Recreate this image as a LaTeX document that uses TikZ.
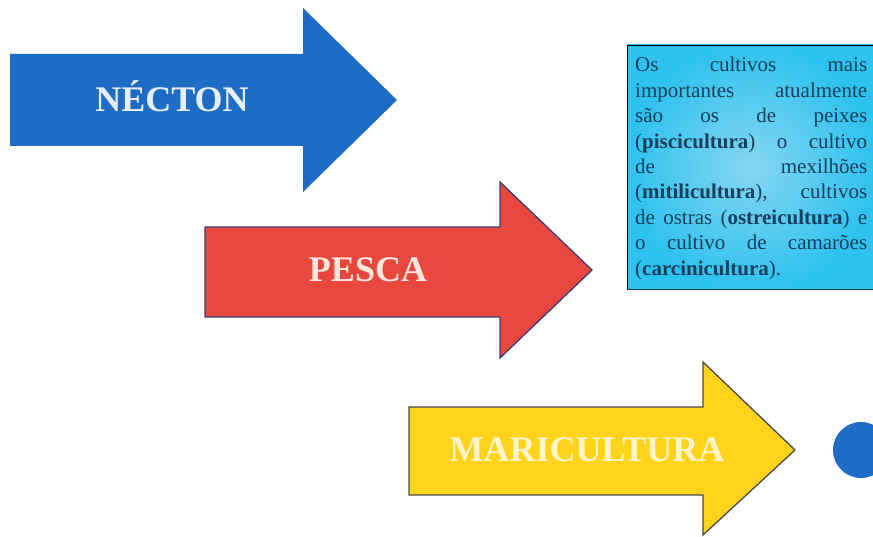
\documentclass[tikz,border=0pt]{standalone}
\usepackage{fontspec}
\setmainfont{Liberation Serif}
\definecolor{arrblue}{HTML}{1F6CC4}
\definecolor{arrred}{HTML}{E8473E}
\definecolor{arryel}{HTML}{FFD21C}
\definecolor{redline}{HTML}{3B3A7A}
\definecolor{yelline}{HTML}{4A4A50}
\definecolor{txtblue}{HTML}{E6EEF8}
\definecolor{txtred}{HTML}{FCE6DE}
\definecolor{txtyel}{HTML}{FFF5C8}
\definecolor{boxin}{HTML}{86D6F2}
\definecolor{boxout}{HTML}{2EC2EE}
\definecolor{boxtxt}{HTML}{173F5E}
\definecolor{boxline}{HTML}{2C7FA8}
\tikzset{
  title/.style={font=\fontsize{36}{40}\selectfont\bfseries, anchor=base, inner sep=0pt},
  boxline/.style={anchor=base west, inner sep=0pt, font=\fontsize{21}{25}\selectfont, text=boxtxt},
}
\newcommand{\jl}[1]{\makebox[232pt][s]{#1}}
\begin{document}
\begin{tikzpicture}[x=1pt,y=-1pt]
\useasboundingbox (0,0) rectangle (873,537);
% blue arrow
\fill[arrblue] (10,54) -- (303,54) -- (303,8) -- (397,100) -- (303,192) -- (303,146) -- (10,146) -- cycle;
\node[title, text=txtblue] (necton) at (172,112) {NÉCTON};
% red arrow
\filldraw[fill=arrred, draw=redline, line width=1.3pt] (205,227) -- (500,227) -- (500,182) -- (592,270) -- (500,358) -- (500,317) -- (205,317) -- cycle;
\node[title, text=txtred] (pesca) at (368,282) {PESCA};
% yellow arrow
\filldraw[fill=arryel, draw=yelline, line width=1.3pt] (409,407) -- (703,407) -- (703,362) -- (795,450) -- (703,535) -- (703,495) -- (409,495) -- cycle;
\node[title, text=txtyel] (mari) at (587,461) {MARICULTURA};
% blue circle
\fill[arrblue] (861,450) circle[radius=28];
% text box
\shade[inner color=boxin, outer color=boxout] (627,45) rectangle (875,290);
\draw[boxline, line width=0.8pt] (875,45) -- (627,45) -- (627,290);
\draw[boxtxt!80!black, line width=1.6pt] (627,289.5) -- (875,289.5);
\node[boxline] (l1) at (635,72) {\jl{Os cultivos mais}};
\node[boxline] (l2) at (635,97.4) {\jl{importantes atualmente}};
\node[boxline] (l3) at (635,122.8) {\jl{são os de peixes}};
\node[boxline] (l4) at (635,148.2) {\jl{(\textbf{piscicultura}) o cultivo}};
\node[boxline] (l5) at (635,173.6) {\jl{de mexilhões}};
\node[boxline] (l6) at (635,199) {\jl{(\textbf{mitilicultura}), cultivos}};
\node[boxline] (l7) at (635,224.4) {\jl{de ostras (\textbf{ostreicultura}) e}};
\node[boxline] (l8) at (635,249.8) {\jl{o cultivo de camarões}};
\node[boxline] (l9) at (635,275.2) {(\textbf{carcinicultura}).};
\end{tikzpicture}
\end{document}
